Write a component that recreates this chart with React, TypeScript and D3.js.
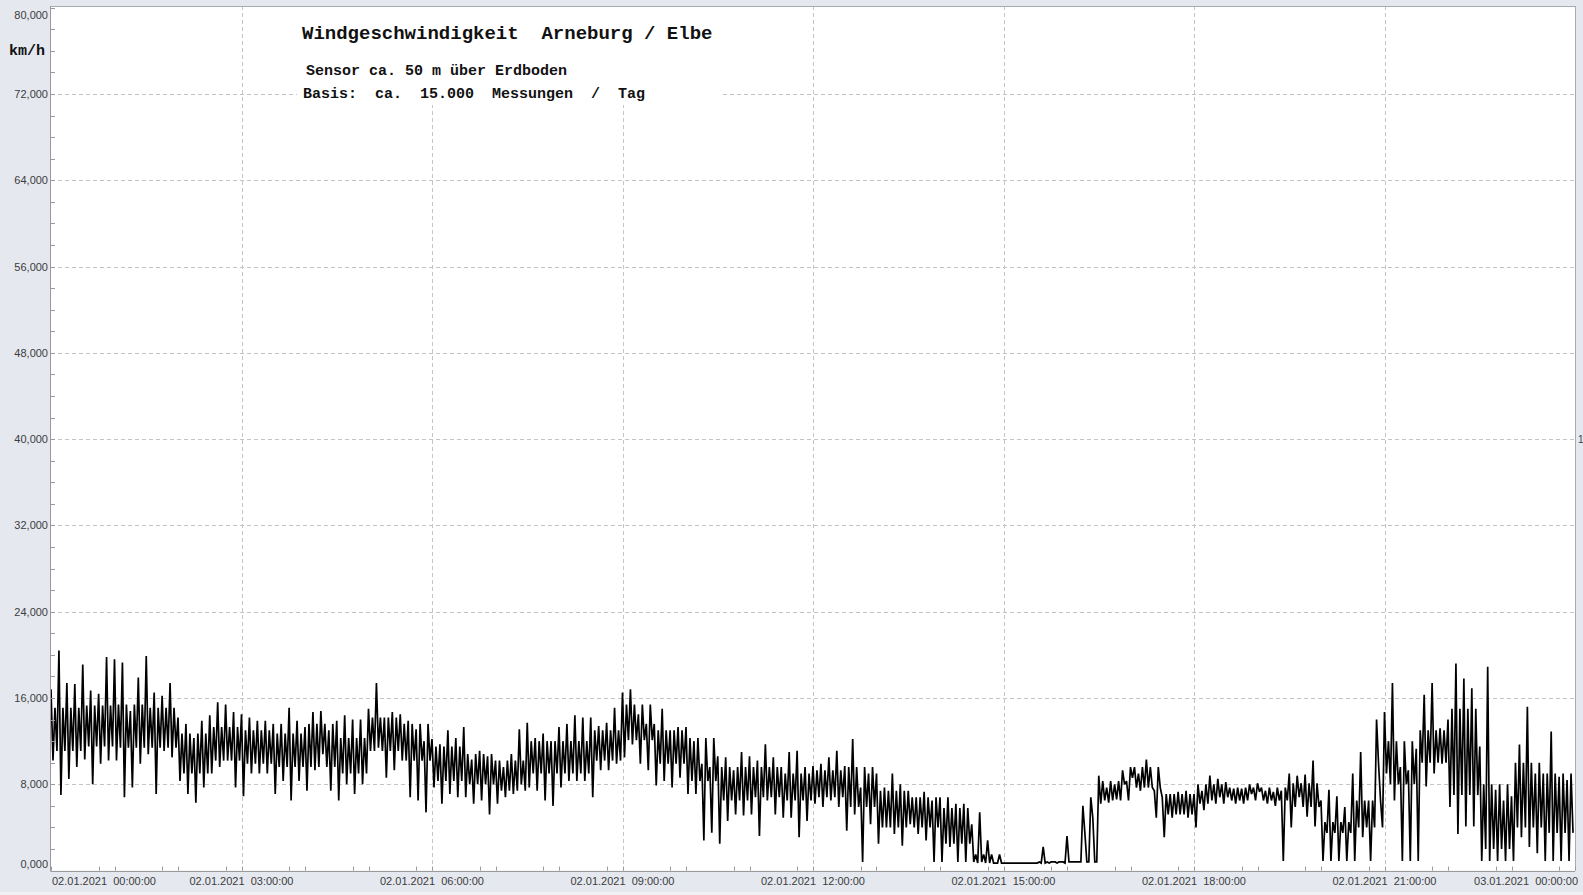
import * as d3 from "d3";

// km/h per 7.5-minute slot: upper and lower envelope of the measurements
const speedHigh = [
  16.8, 20.4, 17.4, 17.3, 19.1, 16.7, 16.4, 19.8, 19.6, 19.3, 14.8, 17.9, 19.9, 16.5, 16.2, 17.4,
  14.2, 13.6, 12.3, 13.9, 14.4, 15.6, 15.4, 14.7, 14.5, 14.2, 13.9, 13.9, 13.6, 13.6, 15.1, 13.9,
  13.3, 14.7, 14.8, 13.0, 13.9, 14.4, 14.0, 14.0, 15.0, 17.4, 14.2, 14.7, 14.5, 13.9, 13.1, 12.0,
  12.2, 11.7, 13.0, 12.3, 13.3, 10.3, 11.1, 10.6, 10.2, 9.6, 10.8, 13.1, 13.7, 12.3, 12.7, 12.0,
  13.3, 13.6, 14.4, 14.2, 14.2, 13.4, 13.7, 15.1, 16.5, 16.8, 14.5, 13.6, 13.6, 15.0, 13.0, 13.3,
  13.3, 12.0, 9.9, 9.6, 10.6, 10.5, 9.3, 11.0, 10.6, 10.2, 11.7, 10.5, 9.6, 11.0, 11.1, 9.6,
  9.7, 9.9, 10.5, 11.1, 9.7, 12.2, 7.7, 9.0, 9.0, 7.7, 9.0, 8.0, 7.4, 6.8, 7.3, 6.5,
  6.8, 6.8, 6.2, 6.2, 4.3, 5.4, 2.8, 0.7, 0.7, 0.7, 0.7, 0.7, 0.7, 2.2, 0.8, 0.8,
  3.2, 0.8, 6.0, 6.8, 8.8, 7.7, 8.0, 9.3, 9.6, 9.0, 10.3, 7.4, 6.8, 7.1, 7.3, 7.4,
  7.1, 7.4, 8.8, 8.5, 8.2, 7.6, 7.6, 8.0, 8.1, 7.4, 7.3, 7.4, 9.0, 8.8, 8.9, 10.2,
  6.5, 7.5, 6.9, 5.9, 9.0, 11.0, 6.5, 14.0, 14.7, 17.4, 9.6, 9.3, 11.3, 16.3, 17.4, 13.2,
  14.0, 19.2, 17.8, 16.9, 11.5, 18.9, 7.5, 6.5, 6.9, 11.7, 15.2, 9.0, 9.0, 12.9, 8.7, 8.4,
];

const speedLow = [
  10.2, 7.0, 8.5, 9.6, 10.3, 8.0, 9.9, 10.2, 10.2, 6.8, 7.7, 9.9, 10.8, 7.1, 11.1, 10.5,
  8.3, 7.1, 6.3, 7.7, 9.0, 9.6, 10.2, 7.7, 6.9, 9.0, 9.0, 9.0, 7.1, 8.3, 6.5, 8.3,
  7.4, 9.3, 10.8, 7.4, 6.5, 8.0, 7.1, 8.0, 11.1, 11.4, 8.6, 9.3, 10.2, 6.8, 6.5, 5.4,
  7.7, 6.2, 7.1, 6.8, 6.8, 6.2, 6.5, 5.2, 6.2, 6.8, 7.1, 8.0, 7.7, 7.4, 6.5, 6.0,
  7.7, 8.3, 8.3, 8.3, 6.8, 9.3, 9.3, 9.9, 10.5, 11.7, 9.9, 9.3, 7.9, 8.3, 7.7, 8.6,
  7.1, 7.1, 2.8, 3.5, 2.5, 4.6, 5.2, 5.1, 5.2, 3.2, 6.5, 5.2, 4.9, 4.9, 3.1, 4.6,
  6.2, 5.9, 6.5, 5.9, 3.7, 5.2, 0.8, 4.3, 2.5, 4.0, 3.4, 2.3, 4.3, 3.4, 2.8, 0.8,
  0.8, 2.2, 0.8, 0.8, 0.8, 0.8, 0.7, 0.7, 0.7, 0.7, 0.7, 0.7, 0.7, 0.7, 0.8, 0.8,
  0.8, 0.8, 3.5, 4.9, 6.2, 6.3, 6.6, 8.0, 8.6, 7.4, 7.7, 4.9, 3.1, 4.9, 5.2, 4.9,
  4.0, 5.6, 6.5, 6.8, 6.8, 6.2, 6.2, 7.1, 7.3, 6.2, 6.0, 0.9, 4.0, 6.8, 5.0, 4.1,
  0.9, 0.9, 0.9, 0.9, 0.9, 3.1, 0.9, 9.9, 9.0, 6.5, 0.9, 0.9, 0.9, 7.8, 9.0, 9.9,
  5.9, 3.4, 4.1, 4.1, 0.9, 0.9, 0.9, 0.9, 0.9, 3.1, 2.2, 1.6, 0.9, 0.9, 0.9, 0.9,
];

// km/h per 30-minute block: where most of the measurements lie (the dense black core)
const coreHigh = [
  15.1, 15.3, 15.4, 15.1, 12.7, 13.3, 13.0, 12.7, 13.6, 12.3, 14.2, 13.6,
  11.5, 10.8, 10.2, 12.0, 12.0, 13.0, 15.4, 13.0, 12.3, 9.6, 9.6, 9.0,
  9.3, 9.6, 7.4, 6.8, 5.8, 1.5, 0.7, 0.8, 0.8, 8.3, 9.6, 7.1,
  8.0, 7.7, 7.7, 8.1, 4.5, 6.5, 12.0, 13.0, 15.0, 8.0, 10.0, 9.0,
];
const coreLow = [
  11.1, 11.5, 11.4, 11.4, 9.0, 10.2, 9.9, 9.6, 9.6, 9.0, 11.1, 10.2,
  8.3, 8.0, 7.4, 9.0, 9.0, 10.2, 12.1, 9.9, 8.3, 6.5, 6.8, 6.5,
  6.8, 5.9, 4.0, 4.0, 2.5, 0.7, 0.7, 0.7, 0.8, 6.5, 7.7, 5.2,
  6.2, 6.5, 6.5, 5.9, 3.5, 4.0, 8.0, 10.0, 7.0, 2.0, 4.0, 3.5,
];

const yTicks = [0, 8, 16, 24, 32, 40, 48, 56, 64, 72, 80];
const titleText = "Windgeschwindigkeit  Arneburg / Elbe";
const subText1 = "Sensor ca. 50 m über Erdboden";
const subText2 = "Basis:  ca.  15.000  Messungen  /  Tag";

const W = 1583;
const H = 895;
const left = 51;
const right = 1575;
const top = 7.7;
const bottom = 870.6;

const start = new Date(2021, 0, 2, 0, 0, 0);
const end = new Date(2021, 0, 3, 0, 0, 0);
const slotMs = 7.5 * 60 * 1000;

export default function App() {
  const x = d3.scaleTime().domain([start, end]).range([left, right]);
  const y = d3.scaleLinear().domain([0, 80]).range([bottom, top]);

  // each slot: peak, trough, then a pass through the dense core of its half hour
  const points: [Date, number][] = [];
  speedHigh.forEach((hi, i) => {
    const t = start.getTime() + i * slotMs;
    const b = Math.floor(i / 4);
    points.push([new Date(t), hi]);
    points.push([new Date(t + slotMs / 4), speedLow[i]]);
    points.push([new Date(t + slotMs / 2), coreHigh[b]]);
    points.push([new Date(t + (slotMs * 3) / 4), coreLow[b]]);
  });

  const line = d3
    .line<[Date, number]>()
    .x((d) => x(d[0]))
    .y((d) => y(d[1]));

  const gridHours = d3.timeHour.every(3)!.range(start, d3.timeMinute.offset(end, 1));
  const minorX = d3.timeMinute.every(45)!.range(start, d3.timeMinute.offset(end, 1));
  const minorY = d3.range(0, 81, 2);
  const fmtY = (v: number) => v.toFixed(3).replace(".", ",");
  const fmtX = d3.timeFormat("%d.%m.%Y  %H:%M:%S");

  const mono = "'Liberation Mono', 'Courier New', monospace";
  const sans = "'Liberation Sans', Arial, sans-serif";

  return (
    <svg
      width={W}
      height={H}
      style={{ position: "absolute", left: 0, top: 0, display: "block" }}
    >
      <rect x={0} y={0} width={W} height={H} fill="#e5e8ef" />
      <rect x={0} y={892} width={W} height={H - 892} fill="#f1f1f3" />
      <rect x={left} y={6} width={right - left} height={bottom - 6} fill="#ffffff" />

      {/* grid */}
      {yTicks
        .filter((v) => v > 0 && v < 80)
        .map((v) => (
          <line
            key={"gy" + v}
            x1={left}
            x2={right}
            y1={Math.round(y(v)) + 0.5}
            y2={Math.round(y(v)) + 0.5}
            stroke="#c4c4c4"
            strokeDasharray="4,3"
          />
        ))}
      {gridHours.slice(1, -1).map((d) => (
        <line
          key={"gx" + d.getTime()}
          x1={Math.round(x(d)) + 0.5}
          x2={Math.round(x(d)) + 0.5}
          y1={6}
          y2={bottom}
          stroke="#c4c4c4"
          strokeDasharray="4,3"
        />
      ))}

      {/* white box behind the title */}
      <rect x={297} y={7} width={426} height={98} fill="#ffffff" />

      {/* data */}
      <path d={line(points) ?? ""} fill="none" stroke="#000000" strokeWidth={1.7} strokeLinejoin="miter" strokeMiterlimit={2} />

      {/* frame and axes */}
      <line x1={left} x2={right} y1={6.5} y2={6.5} stroke="#a8abb3" />
      <line x1={right + 0.5} x2={right + 0.5} y1={6} y2={bottom} stroke="#a8abb3" />
      <line x1={left - 0.5} x2={left - 0.5} y1={6} y2={bottom + 1} stroke="#9a9a9a" />
      <line x1={left} x2={right} y1={Math.round(bottom) + 0.5} y2={Math.round(bottom) + 0.5} stroke="#9a9a9a" />

      {minorY.map((v) => (
        <line
          key={"ty" + v}
          x1={left}
          x2={left + 4}
          y1={Math.round(y(v)) + 0.5}
          y2={Math.round(y(v)) + 0.5}
          stroke="#9a9a9a"
        />
      ))}
      {minorX.map((d) => (
        <line
          key={"tx" + d.getTime()}
          x1={Math.round(x(d)) + 0.5}
          x2={Math.round(x(d)) + 0.5}
          y1={bottom - 4}
          y2={bottom}
          stroke="#9a9a9a"
        />
      ))}

      {yTicks.map((v) => (
        <text
          key={"ly" + v}
          x={48}
          y={Math.min(Math.max(y(v), 15), 864) + 4}
          textAnchor="end"
          fontFamily={sans}
          fontSize={11}
          fill="#3c3c3c"
        >
          {fmtY(v)}
        </text>
      ))}

      {gridHours.map((d, i) => {
        const anchor = i === 0 ? "start" : i === gridHours.length - 1 ? "end" : "middle";
        const px = i === 0 ? 52 : i === gridHours.length - 1 ? 1578 : x(d);
        return (
          <text
            key={"lx" + i}
            x={px}
            y={885}
            textAnchor={anchor}
            fontFamily={sans}
            fontSize={11}
            fill="#3c3c3c"
            style={{ whiteSpace: "pre" }}
          >
            {fmtX(d)}
          </text>
        );
      })}

      <text x={1578} y={443} fontFamily={sans} fontSize={10} fill="#3c3c3c">
        1
      </text>

      <text x={9} y={55} fontFamily={mono} fontWeight="bold" fontSize={15} fill="#111" style={{ whiteSpace: "pre" }}>
        km/h
      </text>
      <text x={302} y={39} fontFamily={mono} fontWeight="bold" fontSize={19} fill="#111" style={{ whiteSpace: "pre" }}>
        {titleText}
      </text>
      <text x={306} y={75} fontFamily={mono} fontWeight="bold" fontSize={15} fill="#111" style={{ whiteSpace: "pre" }}>
        {subText1}
      </text>
      <text x={303} y={98} fontFamily={mono} fontWeight="bold" fontSize={15} fill="#111" style={{ whiteSpace: "pre" }}>
        {subText2}
      </text>
    </svg>
  );
}
